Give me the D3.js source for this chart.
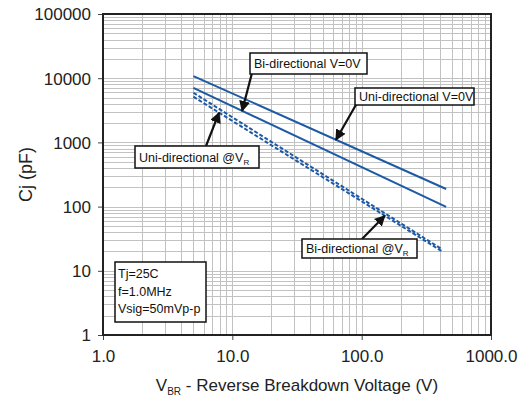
<!DOCTYPE html>
<html>
<head>
<meta charset="utf-8">
<script src="https://cdn.jsdelivr.net/npm/d3@7"></script>
<style>
  body { margin: 0; background: #fff; }
  svg { display: block; font-family: Arial, "Liberation Sans", sans-serif; }
</style>
</head>
<body>
<script>
// values (log-log, straight lines)
var vbrSolid = [5, 450];
var uniZeroCj = [10800, 188];
var biZeroCj = [7050, 99];
var vbrDashed = [5, 420];
var uniVrCj = [5940, 21.5];
var biVrCj = [5150, 20];

var xTicks = [1, 10, 100, 1000];
var yTicks = [1, 10, 100, 1000, 10000, 100000];
var conditions = ["Tj=25C", "f=1.0MHz", "Vsig=50mVp-p"];

var width = 523, height = 399;
var plotLeft = 103, plotRight = 491, plotTop = 14, plotBottom = 335;
var blue = "#1d5aa6";

var svg = d3.select("body").append("svg")
    .attr("width", width)
    .attr("height", height);

var x = d3.scaleLog().domain([1, 1000]).range([plotLeft, plotRight]);
var y = d3.scaleLog().domain([1, 100000]).range([plotBottom, plotTop]);

// minor + major grid
var xGrid = [], yGrid = [];
for (var d = 1; d < 1000; d *= 10) for (var k = 2; k <= 10; k++) xGrid.push(d * k);
for (var d2 = 1; d2 < 100000; d2 *= 10) for (var k2 = 2; k2 <= 10; k2++) yGrid.push(d2 * k2);

var grid = svg.append("g").attr("stroke", "#c2c2c2").attr("stroke-width", 1).attr("shape-rendering", "crispEdges");
grid.selectAll(".vx").data(xGrid).join("line")
    .attr("x1", d => Math.round(x(d)) + 0.5).attr("x2", d => Math.round(x(d)) + 0.5)
    .attr("y1", plotTop).attr("y2", plotBottom);
grid.selectAll(".hy").data(yGrid).join("line")
    .attr("y1", d => Math.round(y(d)) + 0.5).attr("y2", d => Math.round(y(d)) + 0.5)
    .attr("x1", plotLeft).attr("x2", plotRight);

// axes
var xAxis = svg.append("g").attr("transform", `translate(0,${plotBottom})`)
    .call(d3.axisBottom(x).tickValues(xTicks).tickFormat(d3.format(".1f")).tickSize(5).tickPadding(6));
var yAxis = svg.append("g").attr("transform", `translate(${plotLeft},0)`)
    .call(d3.axisLeft(y).tickValues(yTicks).tickFormat(d3.format("d")).tickSize(5).tickPadding(7));
[xAxis, yAxis].forEach(function (a) {
    a.select(".domain").remove();
    a.selectAll(".tick line").attr("stroke", "#444");
    a.selectAll("text").attr("font-size", 17).attr("fill", "#222").attr("font-family", "Arial, 'Liberation Sans', sans-serif");
});
xAxis.selectAll("text").attr("dy", "0.95em");
yAxis.selectAll("text").attr("dy", "0.35em");

// frame
svg.append("rect")
    .attr("x", plotLeft).attr("y", plotTop)
    .attr("width", plotRight - plotLeft).attr("height", plotBottom - plotTop)
    .attr("fill", "none").attr("stroke", "#222").attr("stroke-width", 2);

// series
var line = d3.line().x(d => x(d[0])).y(d => y(d[1]));
var series = [
    {v: vbrSolid, c: uniZeroCj, dash: null},
    {v: vbrSolid, c: biZeroCj, dash: null},
    {v: vbrDashed, c: uniVrCj, dash: "4,2"},
    {v: vbrDashed, c: biVrCj, dash: "4,2"}
];
svg.append("g").selectAll("path").data(series).join("path")
    .attr("d", s => line(s.v.map((v, i) => [v, s.c[i]])))
    .attr("fill", "none")
    .attr("stroke", blue)
    .attr("stroke-width", 2)
    .attr("stroke-dasharray", s => s.dash);

// arrow marker
svg.append("defs").append("marker")
    .attr("id", "arr").attr("viewBox", "0 0 10 10")
    .attr("refX", 9).attr("refY", 5)
    .attr("markerWidth", 5).attr("markerHeight", 5)
    .attr("orient", "auto")
    .append("path").attr("d", "M0,0 L10,5 L0,10 z").attr("fill", "#111");

// annotations: tip in data units, box in pixels
var notes = [
    {text: "Bi-directional V=0V", sub: null, tip: [11.9, 3096], from: [252, 73], box: [250, 53, 117, 21]},
    {text: "Uni-directional V=0V", sub: null, tip: [63.3, 1099], from: [357, 103], box: [355, 88, 119, 17]},
    {text: "Uni-directional @V", sub: "R", tip: [7.9, 2900], from: [206, 146], box: [135, 146, 124, 22]},
    {text: "Bi-directional @V", sub: "R", tip: [151, 72], from: [362, 239], box: [302, 239, 115, 19]}
];
var ng = svg.append("g");
notes.forEach(function (n) {
    ng.append("line")
        .attr("x1", n.from[0]).attr("y1", n.from[1])
        .attr("x2", x(n.tip[0])).attr("y2", y(n.tip[1]))
        .attr("stroke", "#111").attr("stroke-width", 2.2)
        .attr("marker-end", "url(#arr)");
});
notes.forEach(function (n) {
    ng.append("rect")
        .attr("x", n.box[0]).attr("y", n.box[1])
        .attr("width", n.box[2]).attr("height", n.box[3])
        .attr("fill", "#fff").attr("stroke", "#111").attr("stroke-width", 1.5);
    var t = ng.append("text")
        .attr("x", n.box[0] + 4)
        .attr("y", n.box[1] + n.box[3] / 2 + 4.5)
        .attr("font-size", 12.5).attr("fill", "#111")
        .text(n.text);
    if (n.sub) t.append("tspan").attr("font-size", 8).attr("dy", 3).text(n.sub);
});

// conditions box
svg.append("rect")
    .attr("x", 115).attr("y", 262).attr("width", 91).attr("height", 60)
    .attr("fill", "#fff").attr("stroke", "#111").attr("stroke-width", 1.5);
svg.append("g").selectAll("text").data(conditions).join("text")
    .attr("x", 118).attr("y", (d, i) => 278 + i * 17.5)
    .attr("font-size", 12.5).attr("fill", "#111")
    .text(d => d);

// axis titles
var xt = svg.append("text")
    .attr("x", (plotLeft + plotRight) / 2).attr("y", 391)
    .attr("text-anchor", "middle").attr("font-size", 17).attr("fill", "#222");
xt.append("tspan").text("V");
xt.append("tspan").attr("font-size", 10).attr("dy", 4).text("BR");
xt.append("tspan").attr("dy", -4).text(" - Reverse Breakdown Voltage (V)");

svg.append("text")
    .attr("transform", `translate(32,${(plotTop + plotBottom) / 2}) rotate(-90)`)
    .attr("text-anchor", "middle").attr("font-size", 18).attr("fill", "#222")
    .text("Cj (pF)");
</script>
</body>
</html>
